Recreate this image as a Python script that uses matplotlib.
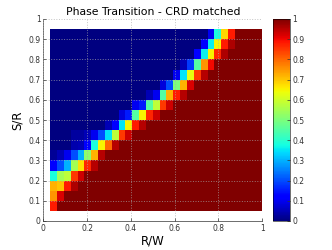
import numpy as np
import matplotlib
matplotlib.use("Agg")
import matplotlib.pyplot as plt

# ---- data ----
x_edges = np.arange(1, 33) / 32.0          # R/W cell edges (31 columns)
y_edges = np.round(np.arange(1, 20) * 0.05, 3)  # S/R cell edges (18 rows)

# first column (edge index) of the transition zone in each row, bottom to top
row_first_col = [1, 1, 1, 1, 1, 1, 4, 4, 9, 11, 13, 15, 17, 19, 20, 22, 23, 24]
# success-probability values across the transition zone for each row
row_values = [
    [0.88],
    [0.75, 0.92],
    [0.72, 0.70, 0.88, 0.96],
    [0.38, 0.55, 0.58, 0.85, 0.93],
    [0.12, 0.20, 0.30, 0.55, 0.67, 0.87, 0.95],
    [0.02, 0.05, 0.10, 0.20, 0.30, 0.52, 0.72, 0.95],
    [0.04, 0.05, 0.12, 0.38, 0.65, 0.80, 0.95],
    [0.03, 0.03, 0.05, 0.10, 0.20, 0.35, 0.58, 0.85, 0.93],
    [0.05, 0.12, 0.35, 0.65, 0.88, 0.95],
    [0.08, 0.15, 0.45, 0.65, 0.87, 0.93],
    [0.10, 0.15, 0.45, 0.58, 0.85, 0.93],
    [0.05, 0.10, 0.45, 0.72, 0.88, 0.95],
    [0.08, 0.20, 0.50, 0.72, 0.92],
    [0.10, 0.35, 0.63, 0.85, 0.95],
    [0.05, 0.18, 0.45, 0.75, 0.90],
    [0.12, 0.36, 0.65, 0.87, 0.96],
    [0.12, 0.36, 0.65, 0.88, 0.96],
    [0.10, 0.38, 0.68, 0.88],
]
x_ticks = [0, 0.2, 0.4, 0.6, 0.8, 1]
x_tick_labels = ["0", "0.2", "0.4", "0.6", "0.8", "1"]
y_ticks = [0, 0.1, 0.2, 0.3, 0.4, 0.5, 0.6, 0.7, 0.8, 0.9, 1]
y_tick_labels = ["0", "0.1", "0.2", "0.3", "0.4", "0.5", "0.6", "0.7", "0.8", "0.9", "1"]
cbar_ticks = [0, 0.1, 0.2, 0.3, 0.4, 0.5, 0.6, 0.7, 0.8, 0.9, 1]
cbar_tick_labels = ["0", "0.1", "0.2", "0.3", "0.4", "0.5", "0.6", "0.7", "0.8", "0.9", "1"]

# build matrix
ncols = len(x_edges) - 1
nrows = len(y_edges) - 1
Z = np.zeros((nrows, ncols))
for r in range(nrows):
    c0 = row_first_col[r] - 1
    vals = row_values[r]
    Z[r, c0:c0 + len(vals)] = vals
    Z[r, c0 + len(vals):] = 1.0

plt.rcParams['font.family'] = ['DejaVu Sans']
fig = plt.figure(figsize=(3.32, 2.5), dpi=100)
ax = fig.add_axes([0.1304, 0.116, 0.6596, 0.808])
mesh = ax.pcolormesh(x_edges, y_edges, Z, cmap='jet', vmin=0, vmax=1)
ax.set_xlim(0, 1)
ax.set_ylim(0, 1)
ax.set_xticks(x_ticks)
ax.set_xticklabels(x_tick_labels)
ax.set_yticks(y_ticks)
ax.set_yticklabels(y_tick_labels)
ax.tick_params(direction='in', length=2.5, width=0.5, labelsize=5.5, pad=2,
               colors='#333333')
ax.set_axisbelow(False)
ax.grid(True, linestyle=':', color='#aaaaaa', linewidth=0.7, alpha=0.7)
for s in ['top', 'right']:
    ax.spines[s].set_visible(False)
for s in ['left', 'bottom']:
    ax.spines[s].set_color('#555555')
    ax.spines[s].set_linewidth(0.6)
ax.set_xlabel('R/W', fontsize=8.5, labelpad=1)
ax.set_ylabel('S/R', fontsize=8.5, labelpad=3)
ax.set_title('Phase Transition - CRD matched', fontsize=7.8, pad=3)

cax = fig.add_axes([0.823, 0.116, 0.0503, 0.808])
cb = fig.colorbar(mesh, cax=cax, ticks=cbar_ticks)
cb.set_ticklabels(cbar_tick_labels)
cb.outline.set_linewidth(0.4)
cax.tick_params(direction='in', length=2, width=0.5, labelsize=5.5, pad=1.5,
                colors='#333333')

fig.savefig('out.png', dpi=100)
